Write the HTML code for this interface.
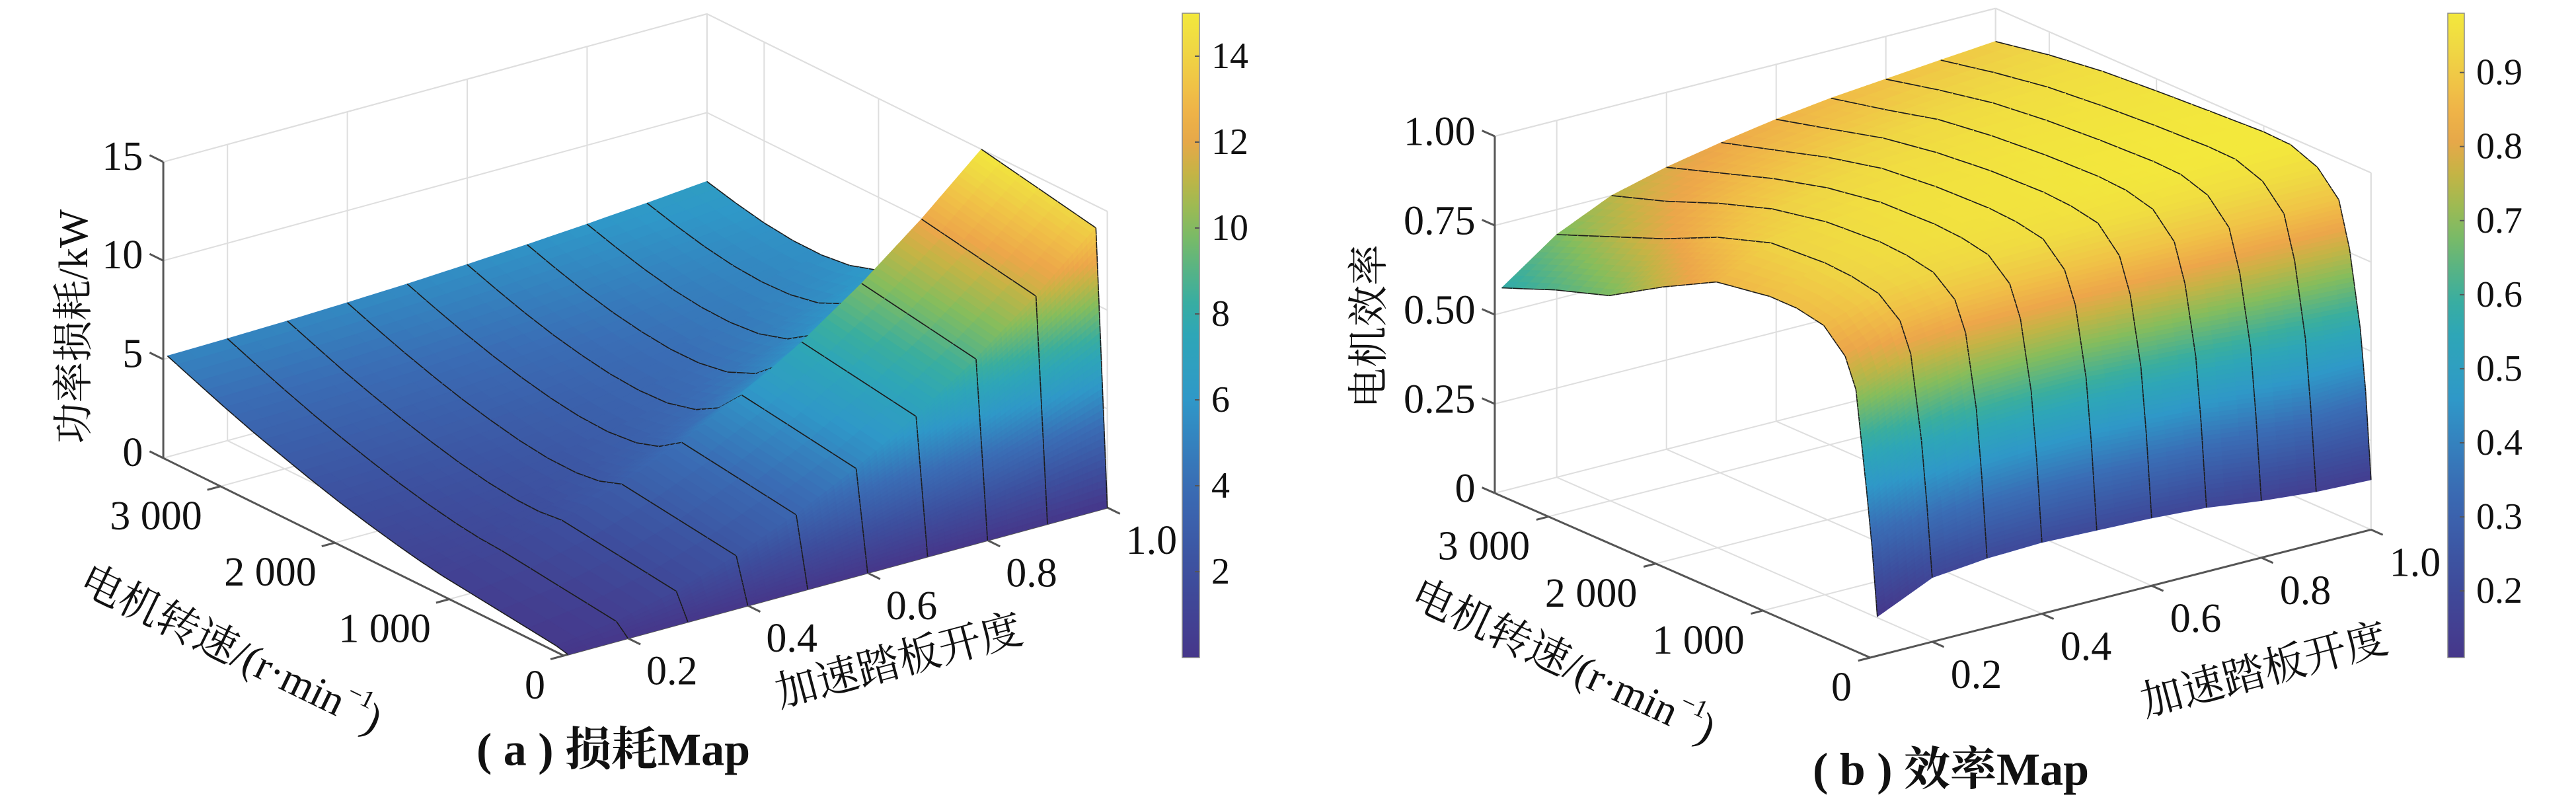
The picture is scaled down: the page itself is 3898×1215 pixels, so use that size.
<!DOCTYPE html>
<html><head><meta charset="utf-8">
<style>
html,body{margin:0;padding:0;background:#fff;}
svg{display:block;}
text{font-family:"Liberation Serif","Noto Serif CJK SC",serif;fill:#111;}
</style></head>
<body>
<svg id="fig" xmlns="http://www.w3.org/2000/svg" width="3898" height="1215" viewBox="0 0 3898 1215">
<defs id="defs"></defs>
<rect x="0" y="0" width="3898" height="1215" fill="#ffffff"/>
<g id="panelA"></g>
<g id="panelB"></g>
</svg>
<script>
// ---------- data: panel (a) loss map ----------
const speedA = [0,100,1100,1300,1500,1750,2000,2250,2500,2750,3000,3250,3500];
const pedalA = [0.1,0.2,0.3,0.4,0.5,0.6,0.7,0.8,0.9,1.0];
const lossA = [
  [0,0.15,0.85,1.05,1.29,1.63,2.01,2.44,2.91,3.40,3.94,4.52,5.11],
  [0,0.56,1.28,1.36,1.52,1.80,2.14,2.55,2.99,3.47,4.00,4.57,5.16],
  [0,1.26,2.00,1.87,1.90,2.08,2.36,2.72,3.13,3.59,4.09,4.65,5.23],
  [0,2.23,3.00,2.59,2.44,2.47,2.66,2.96,3.32,3.75,4.23,4.76,5.33],
  [0,3.48,4.29,3.51,3.13,2.98,3.05,3.26,3.57,3.95,4.40,4.91,5.45],
  [0,5.00,5.86,4.64,3.98,3.60,3.53,3.64,3.88,4.20,4.61,5.09,5.61],
  [0,6.81,7.72,5.97,4.98,4.34,4.09,4.08,4.24,4.50,4.86,5.30,5.79],
  [0,8.89,9.86,7.50,6.13,5.19,4.74,4.60,4.65,4.84,5.15,5.55,6.00],
  [0,11.25,12.29,9.24,7.44,6.15,5.47,5.18,5.12,5.23,5.48,5.83,6.24],
  [0,13.88,15.00,11.19,8.90,7.22,6.30,5.83,5.65,5.67,5.84,6.14,6.51]
];
const zTicksA = [0,5,10,15];
const zTickLabelsA = ['0','5','10','15'];
const cbTicksA = [2,4,6,8,10,12,14];
const cbTickLabelsA = ['2','4','6','8','10','12','14'];

// ---------- data: panel (b) efficiency map ----------
const speedB = [0,50,100,200,300,500,750,1000,1500,2000,2500,3000,3500];
const pedalB = [0.1,0.2,0.3,0.4,0.5,0.6,0.7,0.8,0.9,1.0];
const effB = [
  [0.11,0.30,0.45,0.72,0.80,0.86,0.875,0.875,0.85,0.77,0.68,0.63,0.57],
  [0.18,0.38,0.55,0.78,0.86,0.91,0.925,0.93,0.92,0.87,0.80,0.74,0.68],
  [0.195,0.42,0.60,0.80,0.88,0.93,0.945,0.95,0.94,0.91,0.86,0.80,0.75],
  [0.20,0.43,0.61,0.80,0.885,0.94,0.955,0.96,0.955,0.93,0.89,0.84,0.79],
  [0.195,0.43,0.61,0.80,0.885,0.945,0.96,0.965,0.96,0.945,0.91,0.865,0.82],
  [0.19,0.42,0.60,0.79,0.885,0.95,0.965,0.97,0.965,0.95,0.925,0.885,0.846],
  [0.18,0.41,0.59,0.78,0.885,0.95,0.97,0.975,0.97,0.958,0.938,0.90,0.866],
  [0.16,0.39,0.575,0.77,0.885,0.95,0.975,0.978,0.972,0.962,0.945,0.915,0.88],
  [0.146,0.37,0.56,0.765,0.885,0.95,0.978,0.98,0.974,0.964,0.95,0.925,0.894],
  [0.14,0.38,0.55,0.76,0.885,0.95,0.98,0.983,0.975,0.966,0.955,0.935,0.907]
];
const zTicksB = [0,0.25,0.5,0.75,1.0];
const zTickLabelsB = ['0','0.25','0.50','0.75','1.00'];
const cbTicksB = [0.2,0.3,0.4,0.5,0.6,0.7,0.8,0.9];
const cbTickLabelsB = ['0.2','0.3','0.4','0.5','0.6','0.7','0.8','0.9'];

// shared axis ticks
const speedTicks = [0,1000,2000,3000];
const speedTickLabels = ['0','1 000','2 000','3 000'];
const pedalTicks = [0.2,0.4,0.6,0.8,1.0];
const pedalTickLabels = ['0.2','0.4','0.6','0.8','1.0'];

const NS = 'http://www.w3.org/2000/svg';
const cmapStops = [[0,'#46378a'],[0.13,'#3d4f9e'],[0.27,'#3a6db5'],[0.4,'#2f98c8'],[0.5,'#2ea6b7'],[0.56,'#3aae9e'],[0.67,'#86bd5c'],[0.75,'#c4b445'],[0.81,'#eda64a'],[0.88,'#f0bf47'],[0.94,'#efd644'],[1,'#f3e83c']];
function hex2rgb(h){return [parseInt(h.substr(1,2),16),parseInt(h.substr(3,2),16),parseInt(h.substr(5,2),16)];}
function cmap(t){
  t=Math.max(0,Math.min(1,t));
  for(let k=0;k<cmapStops.length-1;k++){
    const a=cmapStops[k],b=cmapStops[k+1];
    if(t<=b[0]){
      const f=(t-a[0])/(b[0]-a[0]);const ca=hex2rgb(a[1]),cb=hex2rgb(b[1]);
      return 'rgb('+Math.round(ca[0]+f*(cb[0]-ca[0]))+','+Math.round(ca[1]+f*(cb[1]-ca[1]))+','+Math.round(ca[2]+f*(cb[2]-ca[2]))+')';
    }
  }
  return cmapStops[cmapStops.length-1][1];
}

function mk(tag,parent){const e=document.createElementNS(NS,tag);parent.appendChild(e);return e;}
function line(parent,a,b,color,w,name){
  const l=mk('line',parent);
  l.setAttribute('x1',a[0].toFixed(1));l.setAttribute('y1',a[1].toFixed(1));
  l.setAttribute('x2',b[0].toFixed(1));l.setAttribute('y2',b[1].toFixed(1));
  l.setAttribute('stroke',color);l.setAttribute('stroke-width',w);
  
  
  return l;
}
function text(parent,x,y,str,size,anchor,name,rot,weight){
  const t=mk('text',parent);
  t.setAttribute('x',x);t.setAttribute('y',y);
  t.setAttribute('font-size',size);
  t.setAttribute('text-anchor',anchor);
  t.setAttribute('dominant-baseline','central');
  if(rot){t.setAttribute('transform','rotate('+rot+' '+x+' '+y+')');}
  if(weight){t.setAttribute('font-weight',weight);}
  t.textContent=str;
  
  
  return t;
}

function makeProj(c){return (s,p,z)=>[c.ox+c.sx*s+c.px*(p-c.pmin), c.oy+c.sy*s+c.py*(p-c.pmin)-c.zk*z];}

function drawPanel(g,c,S,P,Z,zT,zTL,cbT,cbTL,gradId){
  const pr=makeProj(c);
  const smax=3500,pmin=c.pmin,pmax=1.0,zmax=c.zmax;
  const grid='#dedede', gw=2;
  const boxg=mk('g',g);
  
  
  speedTicks.forEach(s=>line(boxg,pr(s,pmin,0),pr(s,pmax,0),grid,gw,'floor-gridline'));
  pedalTicks.forEach(p=>line(boxg,pr(0,p,0),pr(smax,p,0),grid,gw,'floor-gridline'));
  pedalTicks.forEach(p=>line(boxg,pr(smax,p,0),pr(smax,p,zmax),grid,gw,'wall-gridline'));
  zT.forEach(z=>line(boxg,pr(smax,pmin,z),pr(smax,pmax,z),grid,gw,'wall-gridline'));
  speedTicks.forEach(s=>line(boxg,pr(s,pmax,0),pr(s,pmax,zmax),grid,gw,'wall-gridline'));
  zT.forEach(z=>line(boxg,pr(0,pmax,z),pr(smax,pmax,z),grid,gw,'wall-gridline'));
  line(boxg,pr(smax,pmin,zmax),pr(smax,pmax,zmax),grid,gw,'box-edge');
  line(boxg,pr(smax,pmax,zmax),pr(0,pmax,zmax),grid,gw,'box-edge');
  line(boxg,pr(0,pmax,0),pr(0,pmax,zmax),grid,gw,'box-edge');
  line(boxg,pr(smax,pmax,0),pr(smax,pmax,zmax),grid,gw,'box-edge');
  const ax='#555555';
  line(boxg,pr(smax,pmin,0),pr(smax,pmin,zmax),ax,3,'z-axis-line');
  line(boxg,pr(0,pmin,0),pr(smax,pmin,0),ax,3,'speed-axis-line');
  line(boxg,pr(0,pmin,0),pr(0,pmax,0),ax,3,'pedal-axis-line');
  zT.forEach((z,k)=>{
    const a=pr(smax,pmin,z),b=pr(smax+120,pmin,z);
    line(boxg,a,b,ax,3,'z-tick');
    text(g,(b[0]-10).toFixed(1),(b[1]+2).toFixed(1),zTL[k],62,'end','z-tick-label');
  });
  speedTicks.forEach((s,k)=>{
    const a=pr(s,pmin,0),b=pr(s,pmin-0.022,0);
    line(boxg,a,b,ax,3,'speed-tick');
    text(g,(a[0]-28).toFixed(1),(a[1]+45).toFixed(1),speedTickLabels[k],62,'end','speed-tick-label');
  });
  pedalTicks.forEach((p,k)=>{
    const a=pr(0,p,0),b=pr(-110,p,0);
    line(boxg,a,b,ax,3,'pedal-tick');
    text(g,(a[0]+28).toFixed(1),(a[1]+50).toFixed(1),pedalTickLabels[k],62,'start','pedal-tick-label');
  });

  const sg=mk('g',g);
  
  
  const step=(c.clim[1]-c.clim[0])/70;
  const quads=[];
  for(let j=0;j<P.length-1;j++)for(let i=0;i<S.length-1;i++){
    const z00=Z[j][i],z01=Z[j][i+1],z10=Z[j+1][i],z11=Z[j+1][i+1];
    const du=Math.max(Math.abs(z01-z00),Math.abs(z11-z10));
    const dv=Math.max(Math.abs(z10-z00),Math.abs(z11-z01));
    const nu=Math.min(40,Math.max(3,Math.ceil(du/step)));
    const nv=Math.min(40,Math.max(3,Math.ceil(dv/step)));
    const f=(u,v)=>(1-v)*((1-u)*z00+u*z01)+v*((1-u)*z10+u*z11);
    const sv=u=>S[i]+u*(S[i+1]-S[i]), pv=v=>P[j]+v*(P[j+1]-P[j]);
    for(let b=0;b<nv;b++)for(let a=0;a<nu;a++){
      const u0=a/nu,u1=(a+1)/nu,v0=b/nv,v1=(b+1)/nv;
      const cs=[[u0,v0],[u1,v0],[u1,v1],[u0,v1]];
      const pts=cs.map(q=>pr(sv(q[0]),pv(q[1]),f(q[0],q[1])));
      const zavg=(f(u0,v0)+f(u1,v0)+f(u1,v1)+f(u0,v1))/4;
      const depth=pr(sv((u0+u1)/2),pv((v0+v1)/2),0)[1];
      const segs=[];
      if(b===nv-1)segs.push([pts[3],pts[2]]);
      if(b===0)segs.push([pts[0],pts[1]]);
      quads.push({pts,zavg,depth,segs});
    }
  }
  quads.sort((A,B)=>A.depth-B.depth);
  quads.forEach(q=>{
    const poly=mk('polygon',sg);
    poly.setAttribute('points',q.pts.map(p=>p[0].toFixed(1)+','+p[1].toFixed(1)).join(' '));
    const col=cmap((q.zavg-c.clim[0])/(c.clim[1]-c.clim[0]));
    poly.setAttribute('fill',col);
    poly.setAttribute('stroke',col);
    poly.setAttribute('stroke-width','1.2');
    
    
    q.segs.forEach(sg2=>line(sg,sg2[0],sg2[1],'#1c1c1c',1.6,'mesh-line'));
  });

  const defs=document.getElementById('defs');
  const lg=mk('linearGradient',defs);
  lg.setAttribute('id',gradId);lg.setAttribute('x1','0');lg.setAttribute('y1','1');lg.setAttribute('x2','0');lg.setAttribute('y2','0');
  for(let k=0;k<=20;k++){const st=mk('stop',lg);st.setAttribute('offset',(k/20).toFixed(2));st.setAttribute('stop-color',cmap(k/20));}
  const cb=c.cb;
  const r=mk('rect',g);
  r.setAttribute('x',cb.x);r.setAttribute('y',cb.top);r.setAttribute('width',cb.w);r.setAttribute('height',cb.bot-cb.top);
  r.setAttribute('fill','url(#'+gradId+')');r.setAttribute('stroke','#8a8a8a');r.setAttribute('stroke-width','1.5');
  
  
  cbT.forEach((v,k)=>{
    const y=cb.bot-(v-c.clim[0])/(c.clim[1]-c.clim[0])*(cb.bot-cb.top);
    line(g,[cb.x+cb.w-7,y],[cb.x+cb.w,y],'#555',2,'colorbar-tick');
    text(g,cb.x+cb.w+18,y.toFixed(1),cbTL[k],56,'start','colorbar-tick-label');
  });
}

const cfgA={ox:853,oy:992,sx:-0.1731,sy:-0.0854,px:907,py:-247,pmin:0.093,zk:29.87,zmax:15,clim:[0,15],cb:{x:1789,w:26,top:20,bot:995}};
const cfgB={ox:2830,oy:995,sx:-0.1623,sy:-0.0711,px:830,py:-212,pmin:0.087,zk:540,zmax:1,clim:[0.11,0.98],cb:{x:3704,w:25,top:20,bot:995}};

const gA=document.getElementById('panelA');
const gB=document.getElementById('panelB');
drawPanel(gA,cfgA,speedA,pedalA,lossA,zTicksA,zTickLabelsA,cbTicksA,cbTickLabelsA,'cbgradA');
drawPanel(gB,cfgB,speedB,pedalB,effB,zTicksB,zTickLabelsB,cbTicksB,cbTickLabelsB,'cbgradB');

text(gA,112,494,'功率损耗/kW',62,'middle','z-axis-title',-90);
text(gB,2072,494,'电机效率',62,'middle','z-axis-title',-90);
text(gA,1360,1000,'加速踏板开度',64,'middle','pedal-axis-title',-15);
text(gB,3426,1014,'加速踏板开度',64,'middle','pedal-axis-title',-15);

function speedTitle(g,x,y,rot){
  const t=mk('text',g);
  t.setAttribute('x',x);t.setAttribute('y',y);t.setAttribute('font-size',64);
  t.setAttribute('text-anchor','middle');t.setAttribute('dominant-baseline','central');
  t.setAttribute('transform','rotate('+rot+' '+x+' '+y+')');
  
  
  const a=mk('tspan',t);a.textContent='电机转速/(r·min';
  const b=mk('tspan',t);b.setAttribute('dy','-22');b.setAttribute('font-size','38');b.textContent='−1';
  const d=mk('tspan',t);d.setAttribute('dy','22');d.textContent=')';
}
speedTitle(gA,350,982,26);
speedTitle(gB,2366,1000,25);

text(gA,928,1135,'( a ) 损耗Map',70,'middle','caption-a',0,'bold');
text(gB,2952,1165,'( b ) 效率Map',70,'middle','caption-b',0,'bold');
</script>
</body></html>
